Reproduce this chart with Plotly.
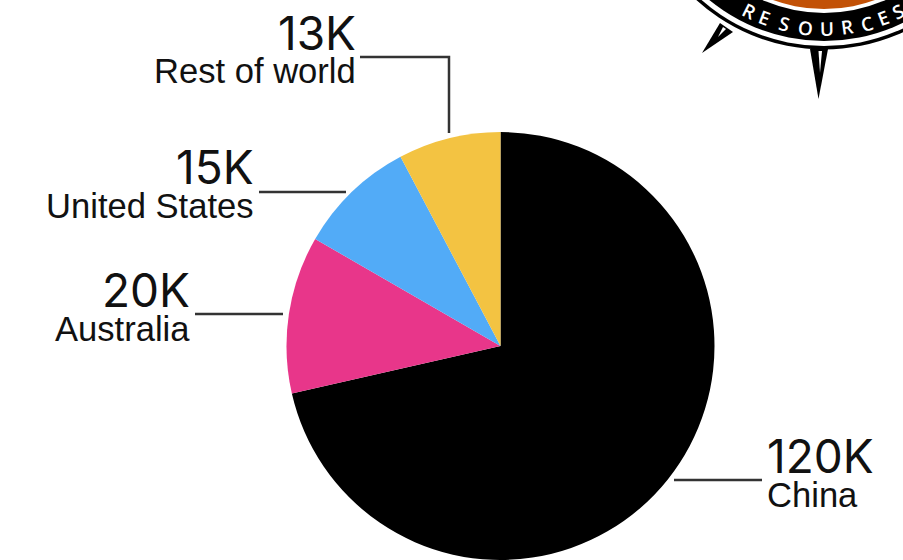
import math
import plotly.graph_objects as go

W, H = 903, 560

# Pie data
regions = ["China", "Australia", "United States", "Rest of world"]
values = [120, 20, 15, 13]
value_labels = ["120K", "20K", "15K", "13K"]
colors = ["#000000", "#E8368A", "#52ABF7", "#F3C342"]

# Pie placement on the page, in pixels
PIE_LEFT, PIE_RIGHT, PIE_TOP, PIE_BOTTOM = 286.5, 714.5, 132, 560

# Anchor edge and vertical centres of each callout
callouts = {
    "China": dict(x=767, anchor="left", big_y=456, small_y=495),
    "Australia": dict(x=190, anchor="right", big_y=290, small_y=329),
    "United States": dict(x=254, anchor="right", big_y=167, small_y=206),
    "Rest of world": dict(x=355.5, anchor="right", big_y=33, small_y=71),
}
leaders = [
    [(674, 480), (762, 480)],
    [(195, 314), (283, 314)],
    [(259, 192), (346, 192)],
    [(360, 57), (449, 57), (449, 133)],
]

# Badge in the top right corner
BADGE_CX, BADGE_CY = 824, -140
BADGE_RINGS = [(189.5, "#000000"), (186, "#FFFFFF"), (181, "#000000"),
               (153, "#FFFFFF"), (149, "#C25106")]
BADGE_WORD = "RESOURCES"
BADGE_ANGLES = [-26.5, -20.5, -13.6, -6.4, 1, 7.8, 14.6, 20.7, 25.8]
BADGE_TEXT_R = 169
SPIKES = [
    ([(720, 23), (733, 32), (702, 53)], "#000000"),
    ([(723, 27), (726, 29), (718, 37)], "#FFFFFF"),
    ([(810, 49), (828, 49), (818.5, 99)], "#000000"),
    ([(818.5, 51), (822, 51), (820, 73)], "#FFFFFF"),
]


def px(x):
    return x / W


def py(y):
    return 1 - y / H


def path(points, close=False):
    d = "M" + " L".join(f"{px(x):.5f},{py(y):.5f}" for x, y in points)
    return d + (" Z" if close else "")


fig = go.Figure(
    go.Pie(
        labels=regions,
        values=values,
        sort=False,
        direction="clockwise",
        rotation=0,
        marker=dict(colors=colors, line=dict(width=0)),
        textinfo="none",
        hoverinfo="label+value",
        domain=dict(
            x=[px(PIE_LEFT), px(PIE_RIGHT)],
            y=[py(PIE_BOTTOM), py(PIE_TOP)],
        ),
        showlegend=False,
    )
)

shapes = []
for pts in leaders:
    shapes.append(dict(type="path", xref="paper", yref="paper", path=path(pts),
                       line=dict(color="#333333", width=2.5)))

for pts, col in SPIKES:
    shapes.append(dict(type="path", xref="paper", yref="paper", path=path(pts, True),
                       fillcolor=col, line=dict(width=0)))

for r, col in BADGE_RINGS:
    shapes.append(dict(type="circle", xref="paper", yref="paper",
                       x0=px(BADGE_CX - r), x1=px(BADGE_CX + r),
                       y0=py(BADGE_CY + r), y1=py(BADGE_CY - r),
                       fillcolor=col, line=dict(width=0)))

annotations = []


def label(text, x, y, anchor, size, color="#111111", angle=0, family="Liberation Sans", weight=400):
    annotations.append(dict(text=text, x=px(x), y=py(y), xref="paper", yref="paper",
                            xanchor=anchor, yanchor="middle", showarrow=False,
                            textangle=angle, borderpad=0, borderwidth=0,
                            font=dict(family=family, size=size, color=color, weight=weight)))


for region, big in zip(regions, value_labels):
    c = callouts[region]
    label(big, c["x"], c["big_y"], c["anchor"], 46, family="Inter")
    label(region, c["x"], c["small_y"], c["anchor"], 34.6)

for ch, ang in zip(BADGE_WORD, BADGE_ANGLES):
    a = math.radians(ang)
    label(ch, BADGE_CX + BADGE_TEXT_R * math.sin(a), BADGE_CY + BADGE_TEXT_R * math.cos(a),
          "center", 19, color="#FFFFFF", angle=-ang, family="Open Sans", weight=600)

fig.update_layout(
    width=W,
    height=H,
    margin=dict(l=0, r=0, t=0, b=0),
    paper_bgcolor="#FFFFFF",
    plot_bgcolor="#FFFFFF",
    shapes=shapes,
    annotations=annotations,
)

fig.write_html("out.html")
